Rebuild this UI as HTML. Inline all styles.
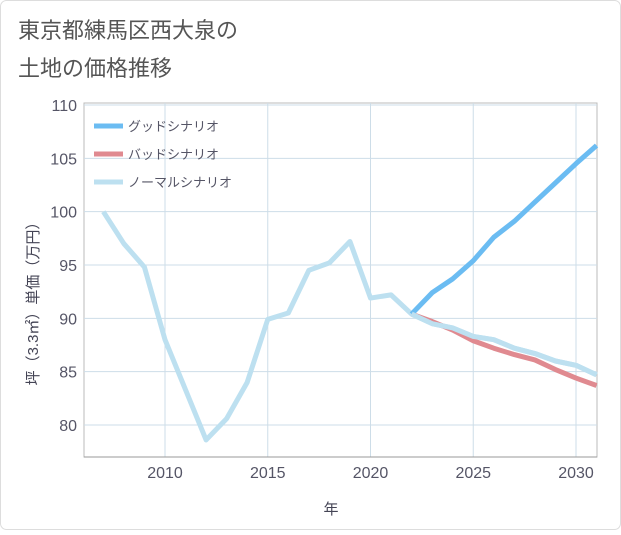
<!DOCTYPE html>
<html><head><meta charset="utf-8"><style>
body{margin:0;background:#fff;font-family:"Liberation Sans","Noto Sans CJK JP",sans-serif}
#wrap{position:relative;width:621px;height:530px;}
</style></head><body>
<div id="wrap">
<svg id="c" width="621" height="530" xmlns="http://www.w3.org/2000/svg">
<rect x="0.5" y="0.5" width="620" height="529" rx="6" fill="#fff" stroke="#ddd"/>
<text x="18" y="38" font-size="22" fill="#555">東京都練馬区西大泉の</text>
<text x="18" y="76" font-size="22" fill="#555">土地の価格推移</text>
<g id="grid"></g><g id="lines"></g><g id="axes"></g>
<text x="331" y="514" font-size="15" fill="#445" text-anchor="middle">年</text>
<text transform="translate(38,300) rotate(-90)" font-size="15" fill="#445" text-anchor="middle">坪（3.3㎡）単価（万円）</text>
<g>
<line x1="94" y1="126" x2="123" y2="126" stroke="#6bbcf2" stroke-width="5"/>
<text x="128" y="131" font-size="13" fill="#556">グッドシナリオ</text>
<line x1="94" y1="154" x2="123" y2="154" stroke="#e08a90" stroke-width="5"/>
<text x="128" y="159" font-size="13" fill="#556">バッドシナリオ</text>
<line x1="94" y1="182" x2="123" y2="182" stroke="#bde0f0" stroke-width="5"/>
<text x="128" y="187" font-size="13" fill="#556">ノーマルシナリオ</text>
</g>
</svg></div>
<script>
const normalYears=[2007,2008,2009,2010,2011,2012,2013,2014,2015,2016,2017,2018,2019,2020,2021,2022,2023,2024,2025,2026,2027,2028,2029,2030,2031];
const normalValues=[100,97,94.8,88,83.3,78.6,80.6,84,89.9,90.5,94.5,95.2,97.2,91.9,92.2,90.4,89.5,89.1,88.3,88,87.2,86.7,86,85.6,84.7];
const scenarioYears=[2022,2023,2024,2025,2026,2027,2028,2029,2030,2031];
const goodValues=[90.4,92.4,93.7,95.4,97.6,99.1,100.9,102.7,104.5,106.2];
const badValues=[90.4,89.7,88.9,87.9,87.2,86.6,86.1,85.2,84.4,83.7];
const yTicks=[80,85,90,95,100,105,110];
const xTicks=[2010,2015,2020,2025,2030];
const NS="http://www.w3.org/2000/svg";
const L=84,R=597,T=105,B=457;
const xs=y=>165+(y-2010)*(576-165)/20;
const ys=v=>425-(v-80)*(425-105)/30;
function mk(tag,at,parent){const e=document.createElementNS(NS,tag);for(const k in at)e.setAttribute(k,at[k]);document.getElementById(parent).appendChild(e);return e;}
const border=mk('rect',{x:L,y:T-2,width:R-L,height:B-T+2,fill:'none',stroke:'#bbb'},'grid');


yTicks.forEach(v=>{
 const g=mk('line',{x1:L,x2:R,y1:ys(v),y2:ys(v),stroke:'#cddde8'},'grid');
 
 
 const t=mk('text',{x:L-7,y:ys(v)+6,'font-size':16,fill:'#556','text-anchor':'end'},'axes');t.textContent=v;
 
 
});
xTicks.forEach(v=>{
 const g=mk('line',{x1:xs(v),x2:xs(v),y1:T-2,y2:B,stroke:'#cddde8'},'grid');
 
 
 const t=mk('text',{x:xs(v),y:B+21,'font-size':16,fill:'#556','text-anchor':'middle'},'axes');t.textContent=v;
 
 
});
const ax=mk('line',{x1:L,x2:R,y1:B,y2:B,stroke:'#999'},'axes');


function series(years,vals,color,name){
 const p=mk('polyline',{points:years.map((y,i)=>xs(y)+','+ys(vals[i])).join(' '),fill:'none',stroke:color,'stroke-width':5,'stroke-linejoin':'round'},'lines');
 
 
}
series(normalYears,normalValues,'#bde0f0','normal-scenario-line');
series(scenarioYears,badValues,'#e08a90','bad-scenario-line');
series(scenarioYears,goodValues,'#6bbcf2','good-scenario-line');
// normal line over bad in the future portion as in the reference
series(scenarioYears,normalValues.slice(15),'#bde0f0','normal-scenario-line-future');
document.getElementById('c').setAttribute('clip-path','none');
</script>
</body></html>
